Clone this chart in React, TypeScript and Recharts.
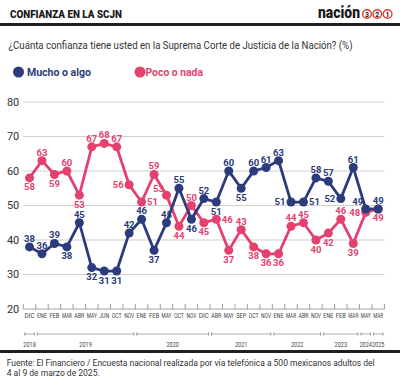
import { CartesianGrid, Line, LineChart, XAxis, YAxis } from "recharts";

const MONTHS = [
  "DIC", "ENE", "FEB", "MAR", "ABR", "MAY", "JUN", "OCT", "NOV", "ENE",
  "FEB", "MAY", "OCT", "NOV", "DIC", "ABR", "MAY", "SEP", "OCT", "NOV",
  "ENE", "MAR", "ABR", "NOV", "ENE", "FEB", "MAR", "MAY", "MAR",
];
const YEARS = ["2018", "2019", "2020", "2021", "2022", "2023", "2024", "2025"];
const YEAR_COUNTS = [1, 8, 6, 5, 4, 3, 1, 1];

const MUCHO = [
  38, 36, 39, 38, 45, 32, 31, 31, 42, 46, 37, 45, 55, 46, 52, 51, 60, 55, 60,
  61, 63, 51, 51, 58, 57, 52, 61, 49, 49,
];
const POCO = [
  58, 63, 59, 60, 53, 67, 68, 67, 56, 51, 59, 53, 44, 50, 45, 46, 37, 43, 38,
  36, 36, 44, 45, 40, 42, 46, 39, 48, 49,
];
const Y_TICKS = [20, 30, 40, 50, 60, 70, 80];

// where each value label sits relative to its dot
const MUCHO_LABEL_POS = [
  "t", "t", "t", "b", "t", "b", "b", "b", "t", "t", "b", "t", "t", "b", "t",
  "b", "t", "b", "t", "t", "t", "l", "r", "t", "t", "l", "t", "tl", "t",
];
const POCO_LABEL_POS = [
  "b", "t", "b", "t", "b", "t", "t", "t", "l", "r", "t", "tl", "b", "t", "b",
  "r", "b", "t", "b", "b", "b", "t", "t", "b", "b", "t", "b", "l", "b",
];

const BLUE = "#2c3b7c";
const PINK = "#e5416f";
const FONT = "Roboto, 'Open Sans', sans-serif";

const PLOT_W = 361.1;
const BAND = PLOT_W / MONTHS.length;

const data = MONTHS.map((m, i) => ({ label: m, mucho: MUCHO[i], poco: POCO[i] }));

const yearStart: number[] = [];
YEAR_COUNTS.reduce((acc, c) => {
  yearStart.push(acc);
  return acc + c;
}, 0);

const makeLabel = (color: string, pos: string[]) => (props: any) => {
  const { x, y, value, index } = props;
  const p = pos[index];
  let tx = x;
  let ty = y - 5;
  let anchor: "middle" | "end" | "start" = "middle";
  if (p === "b") ty = y + 12.5;
  if (p === "l") {
    tx = x - 5.5;
    ty = y + 3.3;
    anchor = "end";
  }
  if (p === "r") {
    tx = x + 5.5;
    ty = y + 3.3;
    anchor = "start";
  }
  if (p === "tl") {
    tx = x - 2.5;
    ty = y - 3.5;
    anchor = "end";
  }
  return (
    <text
      key={`${color}-${index}`}
      x={tx}
      y={ty}
      textAnchor={anchor}
      fill={color}
      fontSize={9.5}
      fontWeight={700}
      fontFamily={FONT}
    >
      {value}
    </text>
  );
};

function MonthTick(props: any) {
  const { x, y, payload } = props;
  const i = payload.index;
  const left = x - BAND / 2;
  const yi = yearStart.indexOf(i);
  const span = yi >= 0 ? YEAR_COUNTS[yi] * BAND : 0;
  return (
    <g>
      <line x1={left} x2={left} y1={y} y2={y - 5} stroke="#888" strokeWidth={0.8} />
      {i === MONTHS.length - 1 && (
        <line x1={left + BAND} x2={left + BAND} y1={y} y2={y - 5} stroke="#888" strokeWidth={0.8} />
      )}
      <text
        x={x - 5}
        y={y + 8.5}
        fontSize={6.3}
        fill="#444"
        fontFamily={FONT}
        textLength={10}
        lengthAdjust="spacingAndGlyphs"
      >
        {payload.value}
      </text>
      {yi >= 0 && (
        <g>
          <line x1={left + 1.5} x2={left + span - 1.5} y1={y + 25} y2={y + 25} stroke="#999" strokeWidth={0.8} />
          <line x1={left + 1.5} x2={left + 1.5} y1={y + 23.5} y2={y + 26.5} stroke="#777" strokeWidth={0.8} />
          <line
            x1={left + span - 1.5}
            x2={left + span - 1.5}
            y1={y + 23.5}
            y2={y + 26.5}
            stroke="#777"
            strokeWidth={0.8}
          />
          <text
            x={left + span / 2 - 6.25}
            y={y + 38}
            fontSize={7}
            fill="#444"
            fontFamily={FONT}
            textLength={12.5}
            lengthAdjust="spacingAndGlyphs"
          >
            {YEARS[yi]}
          </text>
        </g>
      )}
    </g>
  );
}

function Header() {
  return (
    <svg width={400} height={385} style={{ position: "absolute", left: 0, top: 0 }}>
      <text x={10} y={18.3} fontSize={11.5} fontWeight={900} fill="#1a1a1a" textLength={112} lengthAdjust="spacingAndGlyphs">
        CONFIANZA EN LA SCJN
      </text>
      <text x={318} y={18.3} fontSize={17} fontWeight={900} fill="#1a1a1a" textLength={42} lengthAdjust="spacingAndGlyphs">
        nación
      </text>
      {["3", "2", "1"].map((n, i) => (
        <g key={n}>
          <circle cx={367 + i * 10.3} cy={14} r={4.3} fill="#fff" stroke="#e53935" strokeWidth={1.4} />
          <text x={367 + i * 10.3} y={16.6} fontSize={7} fontWeight={700} textAnchor="middle" fill="#222">
            {n}
          </text>
        </g>
      ))}
      <rect x={0} y={23} width={400} height={3} fill="#1f1f1f" />
      <text x={8.5} y={49} fontSize={11} fill="#333" textLength={344} lengthAdjust="spacingAndGlyphs">
        ¿Cuánta confianza tiene usted en la Suprema Corte de Justicia de la Nación? (%)
      </text>
      <circle cx={18.5} cy={72} r={5.5} fill={BLUE} />
      <text x={27} y={75.8} fontSize={11} fontWeight={700} fill={BLUE} textLength={64} lengthAdjust="spacingAndGlyphs">
        Mucho o algo
      </text>
      <circle cx={140} cy={72} r={5.5} fill={PINK} />
      <text x={145.5} y={75.8} fontSize={11} fontWeight={700} fill={PINK} textLength={57.5} lengthAdjust="spacingAndGlyphs">
        Poco o nada
      </text>
      <rect x={0} y={350} width={400} height={3} fill="#1f1f1f" />
      <text x={6.7} y={366.2} fontSize={9.3} fill="#333" textLength={368} lengthAdjust="spacingAndGlyphs">
        Fuente: El Financiero / Encuesta nacional realizada por vía telefónica a 500 mexicanos adultos del
      </text>
      <text x={6.7} y={375.8} fontSize={9.3} fill="#333" textLength={93} lengthAdjust="spacingAndGlyphs">
        4 al 9 de marzo de 2025.
      </text>
    </svg>
  );
}

export default function App() {
  return (
    <div
      style={{
        position: "absolute",
        left: 0,
        top: 0,
        width: 400,
        height: 385,
        background: "#fff",
        overflow: "hidden",
        fontFamily: FONT,
      }}
    >
      <Header />
      <div style={{ position: "absolute", left: 0, top: 0 }}>
        <LineChart
          width={400}
          height={350}
          data={data}
          margin={{ top: 102, right: 15.6, bottom: 0, left: 0 }}
        >
          <CartesianGrid vertical={false} stroke="#cfcfcf" />
          <XAxis
            dataKey="label"
            interval={0}
            height={41}
            padding={{ left: BAND / 2, right: BAND / 2 }}
            tickLine={false}
            tickSize={0}
            tickMargin={0}
            axisLine={{ stroke: "#bdbdbd" }}
            tick={<MonthTick />}
          />
          <YAxis
            domain={[20, 80]}
            ticks={Y_TICKS}
            width={23.3}
            axisLine={false}
            tickLine={false}
            tickSize={0}
            tickMargin={4}
            tick={{ fontSize: 11, fill: "#333", fontFamily: FONT }}
          />
          <Line
            dataKey="poco"
            stroke={PINK}
            strokeWidth={2.8}
            dot={{ r: 4.5, fill: PINK, stroke: PINK, strokeWidth: 0 }}
            activeDot={false}
            isAnimationActive={false}
            label={makeLabel(PINK, POCO_LABEL_POS)}
          />
          <Line
            dataKey="mucho"
            stroke={BLUE}
            strokeWidth={2.8}
            dot={{ r: 4.5, fill: BLUE, stroke: BLUE, strokeWidth: 0 }}
            activeDot={false}
            isAnimationActive={false}
            label={makeLabel(BLUE, MUCHO_LABEL_POS)}
          />
        </LineChart>
      </div>
    </div>
  );
}
